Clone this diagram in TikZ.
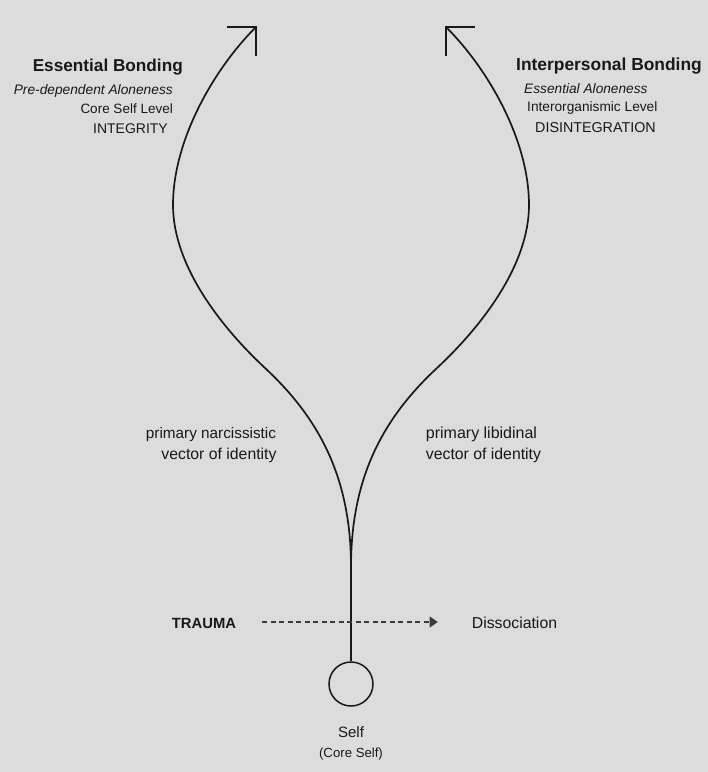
\documentclass[tikz,border=0pt]{standalone}
\usepackage{fontspec}
\setmainfont{Liberation Sans}
\usetikzlibrary{arrows.meta}
\definecolor{bgray}{RGB}{220,220,220}
\definecolor{ink}{RGB}{25,25,25}
\tikzset{
	lbl/.style={inner sep=0pt,text=ink,anchor=base},
	vec/.style={line width=1.7pt,ink,-{Straight Barb[length=20.5pt,width=41pt,line width=1.7pt]}}
}
\newcommand{\fs}[1]{\fontsize{#1}{#1}\selectfont}
\begin{document}
\begin{tikzpicture}[x=1pt,y=-1pt]
	\fill[bgray] (0,0) rectangle (708,772);
	\useasboundingbox (0,0) rectangle (708,772);
	% the two vectors of identity
	\coordinate (junc) at (351,567);
	\coordinate (ltip) at (257,26);
	\coordinate (rtip) at (445,26);
	\draw[vec] (junc) .. controls (351,480) and (321,420) .. (265,368)
		.. controls (220,326) and (173,265) .. (173,205)
		.. controls (173,140) and (214,69) .. (ltip);
	\draw[vec] (junc) .. controls (351,480) and (381,420) .. (437,368)
		.. controls (482,326) and (529,265) .. (529,205)
		.. controls (529,140) and (488,69) .. (rtip);
	% self
	\node[circle,draw=ink,line width=1.5pt,minimum size=44pt,inner sep=0pt] (core) at (351,684) {};
	\draw[line width=1.6pt,ink] (junc) -- (core.north);
	\node[lbl,font=\fs{15}] (self) at (351,737) {Self};
	\node[lbl,font=\fs{13.2}] (coreself) at (351,757) {(Core Self)};
	% left side
	\node[lbl,anchor=base east,font=\bfseries\fs{17.2}] (essb) at (183,71) {Essential Bonding};
	\node[lbl,anchor=base east,font=\itshape\fs{13.75}] (predep) at (173,94) {Pre-dependent Aloneness};
	\node[lbl,anchor=base east,font=\fs{13.5}] (corelvl) at (173,113) {Core Self Level};
	\node[lbl,anchor=base east,font=\fs{14}] (integ) at (168,133) {INTEGRITY};
	% right side
	\node[lbl,anchor=base west,font=\bfseries\fs{17.4}] (interb) at (516,70) {Interpersonal Bonding};
	\node[lbl,anchor=base west,font=\itshape\fs{13.7}] (essal) at (524,93) {Essential Aloneness};
	\node[lbl,anchor=base west,font=\fs{13.7}] (interorg) at (527,111) {Interorganismic Level};
	\node[lbl,anchor=base west,font=\fs{14.3}] (disint) at (535,132) {DISINTEGRATION};
	% vectors
	\node[lbl,font=\fs{15.3}] (primnar) at (211,438) {primary narcissistic};
	\node[lbl,font=\fs{15.8}] (vecl) at (219,459) {vector of identity};
	\node[lbl,font=\fs{16}] (primlib) at (481.5,438) {primary libidinal};
	\node[lbl,font=\fs{15.8}] (vecr) at (483.5,459) {vector of identity};
	% trauma
	\node[lbl,font=\bfseries\fs{14.8}] (trauma) at (204,628) {TRAUMA};
	\node[lbl,font=\fs{15.8}] (dissoc) at (514.5,628) {Dissociation};
	\draw[ink!85,line width=1.2pt,dash pattern=on 5pt off 3.5pt,-{Triangle[length=8pt,width=11pt]}]
		([xshift=26pt,yshift=6pt]trauma.base east) -- ([xshift=-34pt,yshift=6pt]dissoc.base west);
\end{tikzpicture}
\end{document}
